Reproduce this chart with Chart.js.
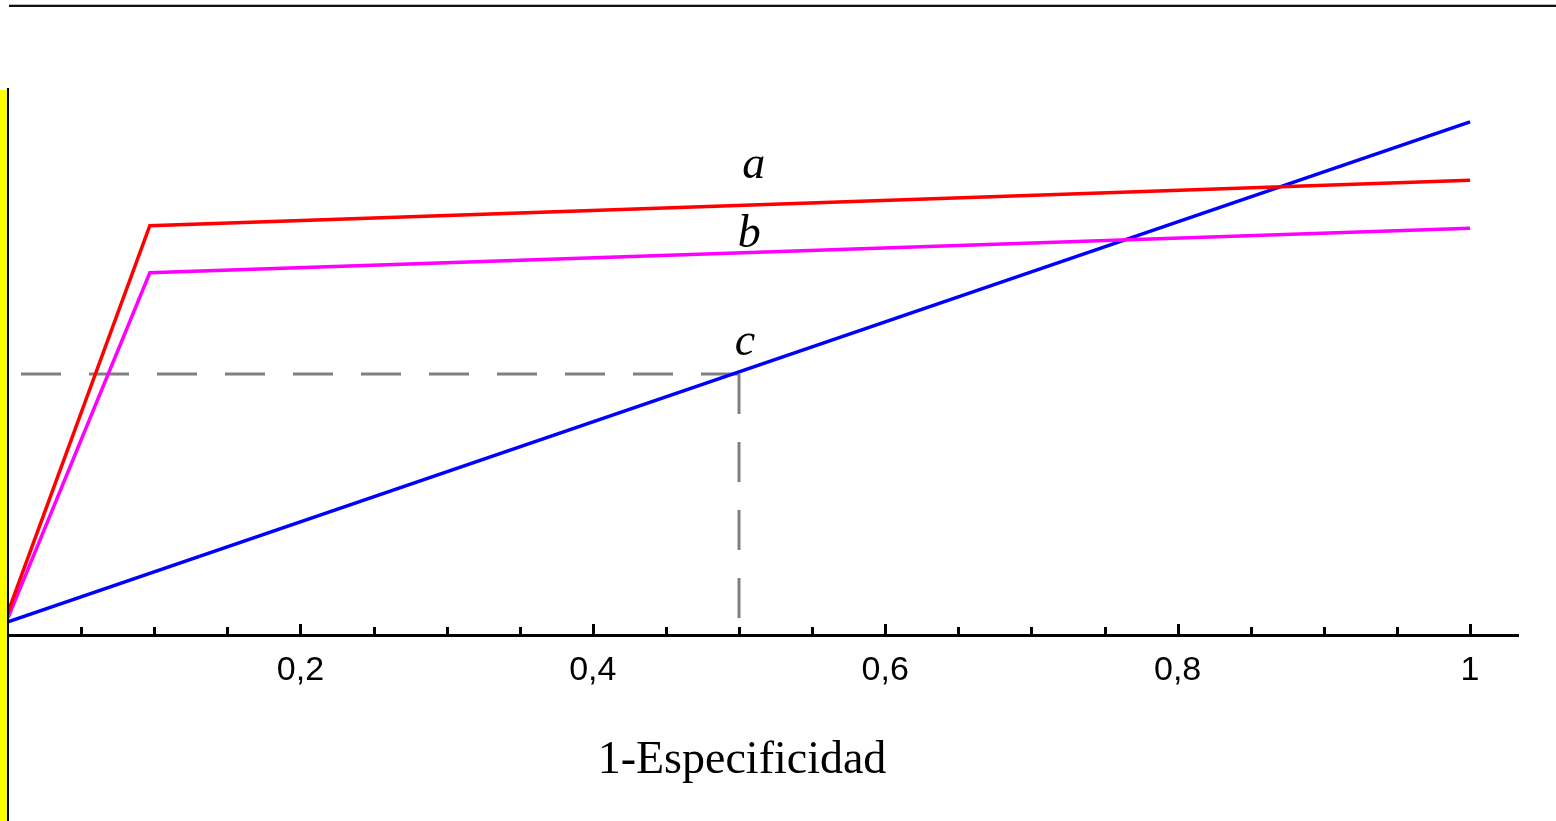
<!DOCTYPE html>
<html><head><meta charset="utf-8">
<script src="https://cdn.jsdelivr.net/npm/chart.js@4/dist/chart.umd.min.js"></script>
<style>
html,body{margin:0;padding:0;background:#fff;overflow:hidden;}
#wrap{position:relative;width:1556px;height:821px;}
canvas{position:absolute;left:0;top:0;}
#topGray{position:absolute;left:9px;top:4px;width:1547px;height:1px;background:#b8b8b8;z-index:2;}
#topBlack{position:absolute;left:9px;top:5px;width:1547px;height:2px;background:#111;z-index:2;}
#yBar{position:absolute;left:0;top:90px;width:7px;height:731px;background:#ffff00;z-index:2;}
#yEdge{position:absolute;left:7px;top:88px;width:2px;height:733px;background:#000;z-index:2;}
</style></head>
<body>
<div id="wrap">
<canvas id="c" width="1556" height="821"></canvas>
<div id="topGray"></div><div id="topBlack"></div>
<div id="yBar"></div><div id="yEdge"></div>
</div>
<script>
// ---- data ----
const xTickValues = [0.2, 0.4, 0.6, 0.8, 1];
const xTickLabels = ['0,2', '0,4', '0,6', '0,8', '1'];
const minorTickValues = [0.05, 0.1, 0.15, 0.25, 0.3, 0.35, 0.45, 0.5, 0.55, 0.65, 0.7, 0.75, 0.85, 0.9, 0.95];
const xTitle = '1-Especificidad';

const curveAx = [0, 0.097, 1];
const curveAy = [0.044, 0.784, 0.871];
const curveBx = [0, 0.097, 1];
const curveBy = [0.033, 0.694, 0.779];
const curveCx = [0, 1];
const curveCy = [0.025, 0.983];
const refHX = [0, 0.5];
const refHY = [0.5, 0.5];
const refVX = [0.5, 0.5];
const refVY = [0.5, 0];

const curveNames = ['a', 'b', 'c'];
const curveNameX = [0.510, 0.507, 0.504];
const curveNameY = [0.875, 0.743, 0.536];

const pts = (xs, ys) => xs.map((x, i) => ({x: x, y: ys[i]}));

const decor = {
  id: 'decor',
  afterDraw(chart) {
    const {ctx, scales: {x, y}, chartArea} = chart;
    const base = chartArea.bottom;
    ctx.save();
    ctx.fillStyle = '#000';
    // inner tick marks
    minorTickValues.forEach(v => {
      const px = Math.round(x.getPixelForValue(v));
      ctx.fillRect(px - 1, base - 8, 3, 8);
    });
    xTickValues.forEach(v => {
      const px = Math.round(x.getPixelForValue(v));
      ctx.fillRect(px - 1, base - 11, 3, 11);
    });
    // curve names
    ctx.font = 'italic 46px "Liberation Serif"';
    ctx.textAlign = 'center';
    ctx.textBaseline = 'alphabetic';
    curveNames.forEach((t, i) => {
      ctx.fillText(t, x.getPixelForValue(curveNameX[i]), y.getPixelForValue(curveNameY[i]));
    });
    // axis title
    ctx.font = '46px "Liberation Serif"';
    ctx.fillText(xTitle, x.getPixelForValue(0.5) + 3, base + 138);
    ctx.restore();
  }
};

new Chart(document.getElementById('c'), {
  type: 'line',
  data: {
    datasets: [
      {data: pts(curveAx, curveAy), borderColor: '#ff0000', borderWidth: 3.5, order: 1},
      {data: pts(curveBx, curveBy), borderColor: '#ff00ff', borderWidth: 3.5, order: 2},
      {data: pts(curveCx, curveCy), borderColor: '#0000ff', borderWidth: 3.5, order: 3},
      {data: pts(refHX, refHY), borderColor: '#808080', borderWidth: 3,
       borderDash: [40, 28], borderDashOffset: 55, order: 10},
      {data: pts(refVX, refVY), borderColor: '#808080', borderWidth: 3,
       borderDash: [40, 28], borderDashOffset: 0, order: 11}
    ]
  },
  options: {
    responsive: false,
    animation: false,
    devicePixelRatio: 1,
    layout: {padding: {left: 8, right: 38, top: 113, bottom: 0}},
    elements: {point: {radius: 0}, line: {tension: 0, borderCapStyle: 'butt', fill: false}},
    plugins: {legend: {display: false}, tooltip: {enabled: false}},
    scales: {
      x: {
        type: 'linear', min: 0, max: 1.0328,
        afterBuildTicks(s) { s.ticks = xTickValues.map(v => ({value: v})); },
        afterFit(s) { s.height = 186; },
        border: {display: true, color: '#000', width: 3},
        grid: {display: true, drawOnChartArea: false, drawTicks: false},
        ticks: {
          font: {family: 'Liberation Sans', size: 34}, color: '#000',
          padding: 15, maxRotation: 0, autoSkip: false,
          callback: (v, i) => xTickLabels[i]
        }
      },
      y: {display: false, min: 0, max: 1}
    }
  },
  plugins: [decor]
});
</script>
</body></html>
